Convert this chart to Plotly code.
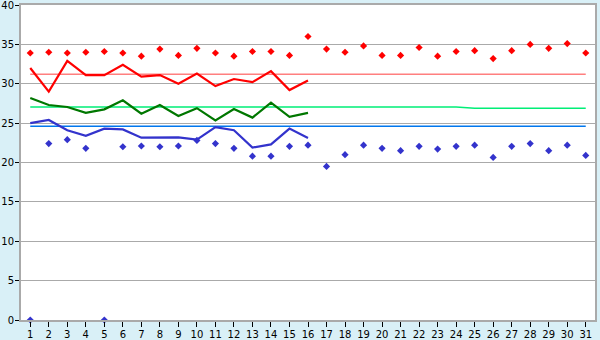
import plotly.graph_objects as go

days = list(range(1, 32))
line_days = list(range(1, 17))

red_points = [33.9, 34.0, 33.9, 34.0, 34.1, 33.9, 33.5, 34.4, 33.6, 34.5,
              33.9, 33.5, 34.1, 34.1, 33.6, 36.0, 34.4, 34.0, 34.8, 33.6,
              33.6, 34.6, 33.5, 34.1, 34.2, 33.2, 34.2, 35.0, 34.5, 35.1, 33.9]
blue_points = [0, 22.4, 22.9, 21.8, 0, 22.0, 22.1, 22.0, 22.1, 22.8,
               22.4, 21.8, 20.8, 20.8, 22.05, 22.2, 19.5, 21.0, 22.2, 21.8,
               21.5, 22.05, 21.7, 22.05, 22.2, 20.65, 22.05, 22.4, 21.5, 22.2, 20.9]

red_line = [32.0, 29.0, 32.9, 31.1, 31.1, 32.4, 30.9, 31.1, 30.0, 31.3,
            29.7, 30.6, 30.2, 31.6, 29.2, 30.4]
green_line = [28.2, 27.3, 27.05, 26.3, 26.75, 27.9, 26.2, 27.3, 25.9, 26.9,
              25.35, 26.8, 25.7, 27.6, 25.8, 26.3]
blue_line = [25.0, 25.4, 24.1, 23.4, 24.3, 24.2, 23.15, 23.15, 23.2, 22.9,
             24.5, 24.1, 21.9, 22.3, 24.3, 23.1]

red_limit = [31.2] * 31
green_limit = [27.05] * 24 + [26.9] * 7
blue_limit = [24.6] * 31

fig = go.Figure()

fig.add_trace(go.Scatter(x=days, y=red_limit, mode="lines",
                         line=dict(color="#ff7f7f", width=1.5)))
fig.add_trace(go.Scatter(x=days, y=green_limit, mode="lines",
                         line=dict(color="#00ee77", width=1.5)))
fig.add_trace(go.Scatter(x=days, y=blue_limit, mode="lines",
                         line=dict(color="#0077ee", width=1.5)))

fig.add_trace(go.Scatter(x=line_days, y=red_line, mode="lines",
                         line=dict(color="#ff0000", width=2.2)))
fig.add_trace(go.Scatter(x=line_days, y=green_line, mode="lines",
                         line=dict(color="#007700", width=2.2)))
fig.add_trace(go.Scatter(x=line_days, y=blue_line, mode="lines",
                         line=dict(color="#3333cc", width=2.2)))

fig.add_trace(go.Scatter(x=days, y=red_points, mode="markers", cliponaxis=False,
                         marker=dict(symbol="diamond", size=5.5, color="#ff0000")))
fig.add_trace(go.Scatter(x=days, y=blue_points, mode="markers", cliponaxis=False,
                         marker=dict(symbol="diamond", size=5.5, color="#3333cc")))

font = dict(family="DejaVu Sans, Verdana, sans-serif", size=10, color="#000000")

fig.update_layout(
    width=600, height=340,
    margin=dict(l=21, r=5, t=5, b=20, autoexpand=False),
    paper_bgcolor="#d9f0f7",
    plot_bgcolor="#ffffff",
    showlegend=False,
    hovermode=False,
    font=font,
)
fig.update_xaxes(
    range=[0.5, 31.5], tickmode="array", tickvals=days, ticktext=[str(d) for d in days],
    showgrid=False, zeroline=False, automargin=False,
    showline=True, linecolor="#aaaaaa", linewidth=2, mirror=True,
    ticks="outside", ticklen=5, tickcolor="#000000", tickwidth=1,
    tickfont=font, ticklabeloverflow="allow", ticklabelstandoff=-1,
)
fig.update_yaxes(
    range=[0, 40], dtick=5, tick0=0, automargin=False,
    showgrid=True, gridcolor="#aaaaaa", gridwidth=1, zeroline=False,
    showline=True, linecolor="#aaaaaa", linewidth=2, mirror=True,
    ticks="outside", ticklen=4, tickcolor="#000000", tickwidth=1,
    tickfont=font, ticklabeloverflow="allow", ticklabelstandoff=-1,
)

fig.write_html("out.html")
